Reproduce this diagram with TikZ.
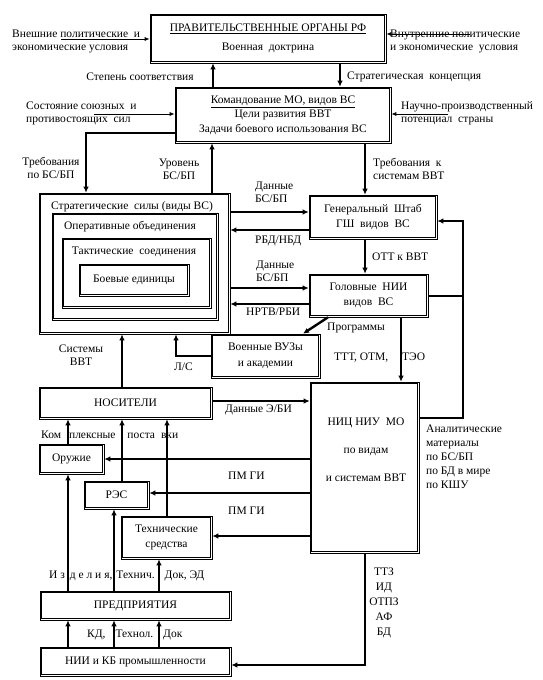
\documentclass[tikz,border=0pt]{standalone}
\usepackage{fontspec}
\setmainfont{Liberation Serif}
\usetikzlibrary{arrows.meta}
\begin{document}
\begin{tikzpicture}[x=1pt,y=-1pt,
  every node/.style={font=\fontsize{11.5}{13}\selectfont, inner sep=0pt},
  box/.style={draw=black, line width=0.6pt, align=center},
  inbox/.style={draw=black, line width=0.6pt},
  thk/.style={line width=2.4pt},
  arr/.style={thk, -{Latex[length=6pt,width=5.5pt]}},
  thinarr/.style={line width=0.8pt, -{Latex[length=5pt,width=4pt]}},
  lbl/.style={align=left, anchor=west},
  lblc/.style={align=center}]
\useasboundingbox (0,0) rectangle (542,680);

% boxes
\node[box, minimum width=236pt, minimum height=49pt] (gov) at (268,38.5)
  {\underline{ПРАВИТЕЛЬСТВЕННЫЕ ОРГАНЫ РФ}\\[6pt]Военная\ \ доктрина};
\node[box, minimum width=216pt, minimum height=56pt] (cmd) at (283,115)
  {\underline{Командование МО, видов ВС}\\[1pt]Цели развития ВВТ\\[2pt]Задачи боевого использования ВС};
\node[box, minimum width=191pt, minimum height=141pt] (strat) at (134.5,263.5) {};
\node[box, minimum width=166pt, minimum height=107pt] (oper) at (135,266.5) {};
\node[box, minimum width=149pt, minimum height=70pt] (tact) at (136.5,273) {};
\node[box, minimum width=110pt, minimum height=32pt] (boev) at (134,280) {Боевые единицы};
\node (stratT) at (132,207) {Стратегические\ \ силы (виды ВС)};
\node (operT) at (130,227) {Оперативные объединения};
\node (tactT) at (134,252) {Тактические\ \ соединения};
\node[box, minimum width=128pt, minimum height=44pt] (gsh) at (373,217)
  {Генеральный\ \ Штаб\\[2pt]ГШ\ \ видов\ \ ВС};
\node[box, minimum width=119pt, minimum height=43pt] (gol) at (368.5,295.5)
  {Головные\ \ НИИ\\[2pt]видов\ \ ВС};
\node[box, minimum width=109pt, minimum height=44pt] (vuz) at (265.5,356)
  {Военные ВУЗы\\[3pt]и академии};
\node[box, minimum width=173pt, minimum height=32pt] (nos) at (125.5,403) {НОСИТЕЛИ};
\node[box, minimum width=109pt, minimum height=171pt] (nic) at (364.5,467.5) {};
\node[align=center] (nicT) at (366,450) {НИЦ НИУ\ \ МО\\[15pt]по видам\\[15pt]и системам ВВТ};
\node[box, minimum width=65pt, minimum height=30pt] (oruzh) at (71.5,459) {Оружие};
\node[box, minimum width=65pt, minimum height=28pt] (res) at (116.5,495) {РЭС};
\node[box, minimum width=91pt, minimum height=43pt] (tech) at (166.5,537.5)
  {Технические\\[2pt]средства};
\node[box, minimum width=191pt, minimum height=29pt] (pred) at (135.5,605.5) {ПРЕДПРИЯТИЯ};
\node[box, minimum width=191pt, minimum height=29pt] (nii) at (135.5,661.5) {НИИ и КБ промышленности};

% inner lines of the double borders
\foreach \n in {gov,cmd,strat,oper,tact,boev,gsh,gol,vuz,nos,nic,oruzh,res,tech,pred,nii}
  \draw[inbox] ([xshift=2pt,yshift=2pt]\n.south west) rectangle ([xshift=-2pt,yshift=-2pt]\n.north east);

% labels
\node[lbl] (l1) at (12,41) {Внешние политические\ \ и\\экономические условия};
\node[lbl] (l2) at (390,41) {Внутренние политические\\и экономические\ \ условия};
\node (l3) at (140,77) {Степень соответствия};
\node[lbl] (l4) at (347,77) {Стратегическая\ \ концепция};
\node[lbl] (l5) at (26,113) {Состояние союзных\ \ и\\противостоящих\ \ сил};
\node[lbl] (l6) at (401,113) {Научно-производственный\\потенциал\ \ страны};
\node[lblc] (l7) at (51,168) {Требования\\по БС/БП};
\node[lblc] (l8) at (179,169) {Уровень\\БС/БП};
\node[lbl] (l9) at (373,169) {Требования\ \ к\\системам ВВТ};
\node[lbl] (l10) at (255,192) {Данные\\БС/БП};
\node[lbl] (l11) at (255,241) {РБД/НБД};
\node[lbl] (l12) at (256,271) {Данные\\БС/БП};
\node[lbl] (l13) at (246,312) {НРТВ/РБИ};
\node[lbl] (l14) at (372,257) {ОТТ к ВВТ};
\node[lbl] (l15) at (327,328) {Программы};
\node[lbl] (l16) at (334,358) {ТТТ, ОТМ,\hspace{14pt}ТЭО};
\node[lblc] (l17) at (81,355) {Системы\\ВВТ};
\node[lbl] (l18) at (174,367) {Л/С};
\node[lbl] (l19) at (225,410) {Данные Э/БИ};
\node[lbl] (l20) at (41,435) {Ком\hspace{8pt}плексные\hspace{12pt}поста\hspace{6pt}вки};
\node[lbl] (l21) at (228,476) {ПМ ГИ};
\node[lbl] (l22) at (228,511) {ПМ ГИ};
\node[lbl, font=\fontsize{11.5}{14}\selectfont] (l23) at (426,457)
  {Аналитические\\материалы\\по БС/БП\\по БД в мире\\по КШУ};
\node[lbl] (l24) at (49,576) {И з\hspace{5pt}д е л и я,\hspace{4pt}Технич.\hspace{10pt}Док, ЭД};
\node[lbl] (l25) at (87,635) {КД,\hspace{10pt}Технол.\hspace{10pt}Док};
\node[lblc, font=\fontsize{11.5}{15}\selectfont] (l26) at (384,603) {ТТЗ\\ИД\\ОТПЗ\\АФ\\БД};

% thin external arrows
\coordinate (e1) at (61,39);
\coordinate (e2) at (470,34);
\coordinate (e3) at (94,114);
\coordinate (e4) at (448,114);
\draw[thinarr] (e1) -- (gov.west |- e1);
\draw[thinarr] (e2) -- (gov.east |- e2);
\draw[thinarr] (e3) -- (cmd.west |- e3);
\draw[thinarr] (e4) -- (cmd.east |- e4);

% top connectors
\draw[arr] (cmd.north -| 213,0) -- (gov.south -| 213,0);
\draw[arr] (gov.south -| 340,0) -- (cmd.north -| 340,0);
\draw[arr] (cmd.west |- 0,133) -| (strat.north -| 86,0);
\draw[arr] (strat.north -| 212,0) -- (cmd.south -| 212,0);
\draw[arr] (cmd.south -| 365,0) -- (gsh.north -| 365,0);

% strategic <-> staff
\draw[arr] (strat.east |- 0,212) -- (gsh.west |- 0,212);
\draw[arr] (gsh.west |- 0,230) -- (strat.east |- 0,230);
\draw[arr] (gsh.south -| 365,0) -- (gol.north -| 365,0);
\draw[arr] (strat.east |- 0,288) -- (gol.west |- 0,288);
\draw[arr] (gol.west |- 0,304) -- (strat.east |- 0,304);
\draw[arr] (gol.south -| 328,0) -- (vuz.north -| 303,0);
\draw[arr] (gol.south -| 401,0) -- (nic.north -| 401,0);
\draw[arr] (nic.east |- 0,418) -- (463,418) |- (gsh.east |- 0,221);
\draw[thk] (gol.east |- 0,296) -- (463,296);
\draw[arr] (vuz.west |- 0,356) -| (strat.south -| 176,0);
\draw[arr] (nos.north -| 122,0) -- (strat.south -| 122,0);
\draw[arr] (nos.east |- 0,401) -- (nic.west |- 0,401);

% products
\draw[arr] (oruzh.north -| 68,0) -- (nos.south -| 68,0);
\draw[arr] (res.north -| 122,0) -- (nos.south -| 122,0);
\draw[arr] (tech.north -| 167,0) -- (nos.south -| 167,0);
\draw[arr] (nic.west |- 0,459) -- (oruzh.east |- 0,459);
\draw[arr] (nic.west |- 0,493) -- (res.east |- 0,493);
\draw[arr] (nic.west |- 0,536) -- (tech.east |- 0,536);
\draw[arr] (pred.north -| 68,0) -- (oruzh.south -| 68,0);
\draw[arr] (pred.north -| 114,0) -- (res.south -| 114,0);
\draw[arr] (pred.north -| 159,0) -- (tech.south -| 159,0);
\draw[arr] (nii.north -| 68,0) -- (pred.south -| 68,0);
\draw[arr] (nii.north -| 114,0) -- (pred.south -| 114,0);
\draw[arr] (nii.north -| 159,0) -- (pred.south -| 159,0);
\draw[arr] (nic.south -| 365,0) |- (nii.east |- 0,665);
\end{tikzpicture}
\end{document}
